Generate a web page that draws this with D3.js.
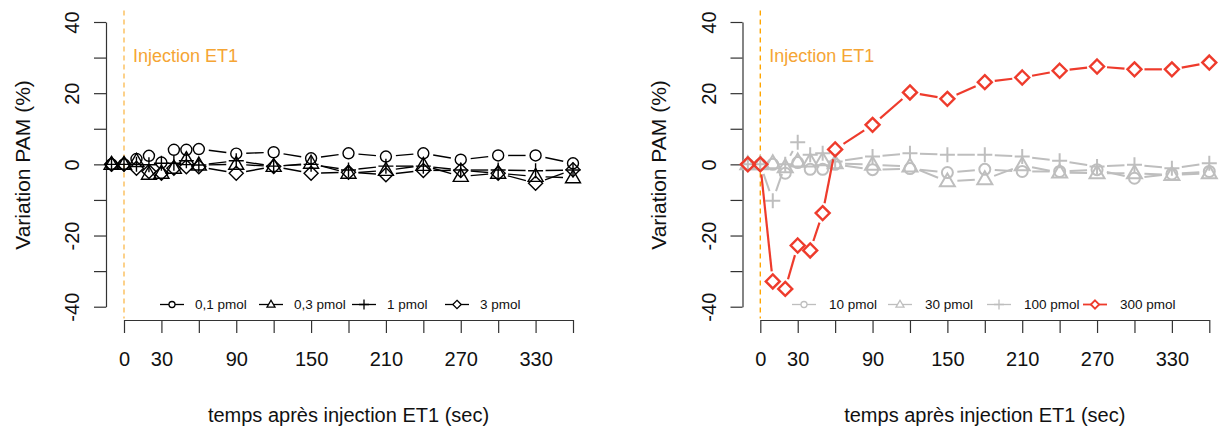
<!DOCTYPE html>
<html>
<head>
<meta charset="utf-8">
<script src="https://cdn.jsdelivr.net/npm/d3@7"></script>
<style>
  html, body { margin: 0; padding: 0; background: #fff; }
  svg { display: block; font-family: "Liberation Sans", Arial, sans-serif; }
</style>
</head>
<body>
<svg id="chart" width="1224" height="428"></svg>
<script>
// ---------------- DATA ----------------
const times = [-10, 0, 10, 20, 30, 40, 50, 60, 90, 120, 150, 180, 210, 240, 270, 300, 330, 360];

// Left panel (low doses)
const dose01pmol = [0, 0, 1.5, 2.4, 0.5, 4.1, 4.1, 4.3, 3.0, 3.4, 1.7, 3.1, 2.2, 3.1, 1.3, 2.5, 2.5, 0.3];
const dose03pmol = [0, 0, 0.8, -2.8, -2.5, -1.1, 1.3, -0.2, 0, -0.6, 0.3, -2.5, -1.7, -0.3, -3.4, -2.5, -3.4, -3.8];
const dose1pmol  = [0, 0, 0, -0.1, 0.3, 0.3, 1.0, -0.2, 1.0, -0.5, 0, -1.6, -0.5, -0.5, -1.6, -1.6, -1.8, -1.6];
const dose3pmol  = [0, 0, -1.1, -2.0, -2.5, -1.1, -0.7, -0.7, -2.5, -0.6, -2.5, -2.2, -2.9, -1.7, -1.7, -2.5, -5.3, -1.5];

// Right panel (high doses)
const dose10pmol  = [0, 0, 0, -2.5, 0.5, -1.4, -1.4, 0, -1.5, -1.2, -2.3, -1.4, -2.0, -2.0, -1.5, -3.9, -2.7, -2.0];
const dose30pmol  = [0, 0, 0.3, -0.8, 0.8, 0.8, 1.1, 0.3, -0.1, -0.6, -4.8, -4.2, -0.3, -2.3, -2.5, -2.5, -3.0, -2.5];
const dose100pmol = [0, 0, -10.2, 0, 6.2, 2.7, 3.1, 0.8, 2.2, 3.1, 2.7, 2.7, 2.2, 1.0, -0.6, -0.1, -1.1, 0.3];
const dose300pmol = [0, 0, -32.9, -35.0, -22.8, -24.2, -13.7, 4.2, 11.1, 20.2, 18.4, 23.1, 24.4, 26.3, 27.5, 26.7, 26.7, 28.6];

const leftLabels  = ["0,1 pmol", "0,3 pmol", "1 pmol", "3 pmol"];
const rightLabels = ["10 pmol", "30 pmol", "100 pmol", "300 pmol"];
const symbols = ["circle", "triangle", "plus", "diamond"];

const xTicks = [0, 30, 60, 90, 120, 150, 180, 210, 240, 270, 300, 330, 360];
const xTickLabels = [0, 30, 90, 150, 210, 270, 330];
const yTicks = [-40, -30, -20, -10, 0, 10, 20, 30, 40];
const yTickLabels = [-40, -20, 0, 20, 40];
const injectionLabel = "Injection ET1";
const xTitle = "temps après injection ET1 (sec)";
const yTitle = "Variation PAM (%)";

// ---------------- LAYOUT ----------------
const svg = d3.select("#chart");
const GRAY = "#BEBEBE", RED = "#EE3B2C", BLACK = "#000";

const panels = [
  {
    axisX: 106, x0: 124, x1: 573,
    series: [dose01pmol, dose03pmol, dose1pmol, dose3pmol],
    colors: [BLACK, BLACK, BLACK, BLACK],
    widths: [1.4, 1.4, 1.4, 1.4],
    labels: leftLabels,
    legendText: [195, 294, 387, 480],
    legendOff: 23,
    injColor: "#FBBE5A"
  },
  {
    axisX: 742.5, x0: 760.3, x1: 1209.3,
    series: [dose10pmol, dose30pmol, dose100pmol, dose300pmol],
    colors: [GRAY, GRAY, GRAY, RED],
    widths: [2, 2, 2, 2.2],
    labels: rightLabels,
    legendText: [829, 925, 1024, 1120],
    legendOff: 25,
    injColor: "#FFA500"
  }
];

function symbolPath(type, s) {
  // s = half-size
  switch (type) {
    case "circle":
      return `M${-s},0 A${s},${s} 0 1,0 ${s},0 A${s},${s} 0 1,0 ${-s},0 Z`;
    case "triangle": {
      const h = s * 1.732;
      return `M0,${-h * 0.62} L${s},${h * 0.38} L${-s},${h * 0.38} Z`;
    }
    case "plus":
      return `M${-s},0 L${s},0 M0,${-s} L0,${s}`;
    case "diamond":
      return `M0,${-s} L${s},0 L0,${s} L${-s},0 Z`;
  }
}
const symSize = { circle: 5.5, triangle: 7.5, plus: 7.5, diamond: 7 };
const legSize = { circle: 3, triangle: 4, plus: 5, diamond: 4.2 };

panels.forEach(p => {
  const g = svg.append("g");
  const x = d3.scaleLinear().domain([0, 360]).range([p.x0, p.x1]);
  const y = d3.scaleLinear().domain([-40, 40]).range([306.7, 22]);

  // Injection line
  g.append("line")
    .attr("x1", x(0)).attr("x2", x(0))
    .attr("y1", 10.6).attr("y2", 318.4)
    .attr("stroke", p.injColor).attr("stroke-width", 1.4)
    .attr("stroke-dasharray", "5,4");
  g.append("text")
    .attr("x", x(0) + 9).attr("y", 62)
    .attr("fill", "#F5A534")
    .attr("font-size", 18)
    .text(injectionLabel);

  // X axis
  const xAxis = d3.axisBottom(x)
    .tickValues(xTicks)
    .tickSize(13).tickSizeOuter(0).tickPadding(19)
    .tickFormat(d => xTickLabels.includes(d) ? d : "");
  const gx = g.append("g").attr("transform", "translate(0,320)").call(xAxis);
  gx.selectAll("path, line").attr("stroke", "#333").attr("stroke-width", 1.2);
  gx.selectAll("text").attr("font-size", 20).attr("fill", "#111")
    .attr("font-family", "Liberation Sans, Arial, sans-serif");

  // Y axis
  const yAxis = d3.axisLeft(y)
    .tickValues(yTicks)
    .tickSize(12).tickSizeOuter(0)
    .tickFormat(d => yTickLabels.includes(d) ? d : "");
  const gy = g.append("g").attr("transform", `translate(${p.axisX},0)`).call(yAxis);
  gy.selectAll("path, line").attr("stroke", "#333").attr("stroke-width", 1.2);
  gy.selectAll("text")
    .attr("font-size", 20).attr("fill", "#111")
    .attr("font-family", "Liberation Sans, Arial, sans-serif")
    .attr("x", 0).attr("dy", "0.36em")
    .attr("text-anchor", "middle")
    .attr("transform", "translate(-34,0) rotate(-90)");

  // Titles
  g.append("text")
    .attr("x", (p.x0 + p.x1) / 2).attr("y", 422)
    .attr("text-anchor", "middle").attr("font-size", 20).attr("fill", "#111")
    .text(xTitle);
  g.append("text")
    .attr("transform", `translate(${p.axisX - 84},165) rotate(-90)`)
    .attr("dy", "0.36em")
    .attr("text-anchor", "middle").attr("font-size", 21).attr("fill", "#111")
    .text(yTitle);

  // Series (type = "b": lines with gaps around points)
  const gap = 10;
  p.series.forEach((vals, si) => {
    const col = p.colors[si], sw = p.widths[si];
    const pts = times.map((t, i) => [x(t), y(vals[i])]);
    const segs = [];
    for (let i = 0; i < pts.length - 1; i++) {
      const [ax, ay] = pts[i], [bx, by] = pts[i + 1];
      const dx = bx - ax, dy = by - ay, len = Math.hypot(dx, dy);
      if (len > 2 * gap + 1) {
        const ux = dx / len, uy = dy / len;
        segs.push([ax + ux * gap, ay + uy * gap, bx - ux * gap, by - uy * gap]);
      }
    }
    g.append("g").selectAll("line").data(segs).join("line")
      .attr("x1", d => d[0]).attr("y1", d => d[1])
      .attr("x2", d => d[2]).attr("y2", d => d[3])
      .attr("stroke", col).attr("stroke-width", sw);
    g.append("g").selectAll("path").data(pts).join("path")
      .attr("transform", d => `translate(${d[0]},${d[1]})`)
      .attr("d", symbolPath(symbols[si], symSize[symbols[si]]))
      .attr("fill", "none").attr("stroke", col)
      .attr("stroke-width", si === 3 && col === RED ? 2.4 : sw);
  });

  // Legend
  p.labels.forEach((lab, i) => {
    const tx = p.legendText[i], cx = tx - p.legendOff, cy = 304.5;
    const col = p.colors[i];
    const lw = col === RED ? 1.8 : 1.3;
    g.append("line")
      .attr("x1", cx - 12).attr("x2", cx + 12)
      .attr("y1", cy).attr("y2", cy)
      .attr("stroke", col).attr("stroke-width", lw);
    g.append("path")
      .attr("transform", `translate(${cx},${cy})`)
      .attr("d", symbolPath(symbols[i], legSize[symbols[i]]))
      .attr("fill", "#fff").attr("stroke", col).attr("stroke-width", lw);
    g.append("text")
      .attr("x", tx).attr("y", cy).attr("dy", "0.35em")
      .attr("font-size", 13.5).attr("fill", "#111")
      .text(lab);
  });
});
</script>
</body>
</html>
